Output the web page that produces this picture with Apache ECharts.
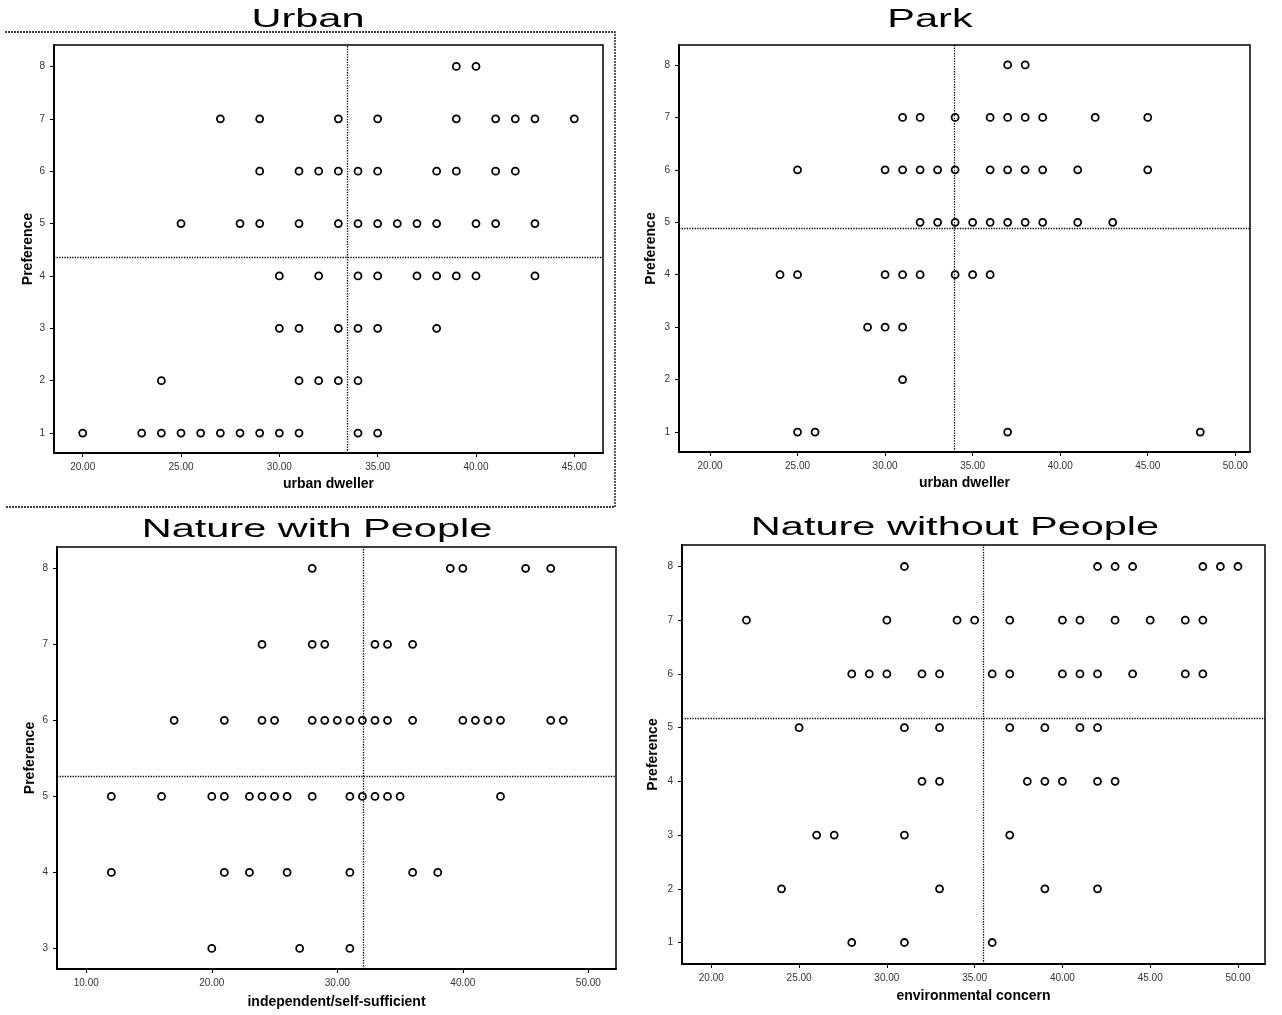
<!DOCTYPE html>
<html>
<head>
<meta charset="utf-8">
<script src="https://cdn.jsdelivr.net/npm/echarts@6/dist/echarts.min.js"></script>
<style>
  html, body { margin: 0; background: #fff; }
  #chart { width: 1282px; height: 1015px; }
</style>
</head>
<body>
<div id="chart"></div>
<script>
// panel titles and axis names
var titles = ['Urban', 'Park', 'Nature with People', 'Nature without People'];
var xNames = ['urban dweller', 'urban dweller', 'independent/self-sufficient', 'environmental concern'];

// tick labels
var xTicks = [
  [20, 25, 30, 35, 40, 45],
  [20, 25, 30, 35, 40, 45, 50],
  [10, 20, 30, 40, 50],
  [20, 25, 30, 35, 40, 45, 50]
];
var yTicks = [
  [1, 2, 3, 4, 5, 6, 7, 8],
  [1, 2, 3, 4, 5, 6, 7, 8],
  [3, 4, 5, 6, 7, 8],
  [1, 2, 3, 4, 5, 6, 7, 8]
];

// mean reference lines (x mean, preference mean)
var meanX = [33.47, 33.93, 32.03, 35.5];
var meanY = [4.36, 4.89, 5.27, 5.17];

// points: [score, preference]
var urbanPoints = [
  [39, 8], [40, 8],
  [27, 7], [29, 7], [33, 7], [35, 7], [39, 7], [41, 7], [42, 7], [43, 7], [45, 7],
  [29, 6], [31, 6], [32, 6], [33, 6], [34, 6], [35, 6], [38, 6], [39, 6], [41, 6], [42, 6],
  [25, 5], [28, 5], [29, 5], [31, 5], [33, 5], [34, 5], [35, 5], [36, 5], [37, 5], [38, 5], [40, 5], [41, 5], [43, 5],
  [30, 4], [32, 4], [34, 4], [35, 4], [37, 4], [38, 4], [39, 4], [40, 4], [43, 4],
  [30, 3], [31, 3], [33, 3], [34, 3], [35, 3], [38, 3],
  [24, 2], [31, 2], [32, 2], [33, 2], [34, 2],
  [20, 1], [23, 1], [24, 1], [25, 1], [26, 1], [27, 1], [28, 1], [29, 1], [30, 1], [31, 1], [34, 1], [35, 1]
];
var parkPoints = [
  [37, 8], [38, 8],
  [31, 7], [32, 7], [34, 7], [36, 7], [37, 7], [38, 7], [39, 7], [42, 7], [45, 7],
  [25, 6], [30, 6], [31, 6], [32, 6], [33, 6], [34, 6], [36, 6], [37, 6], [38, 6], [39, 6], [41, 6], [45, 6],
  [32, 5], [33, 5], [34, 5], [35, 5], [36, 5], [37, 5], [38, 5], [39, 5], [41, 5], [43, 5],
  [24, 4], [25, 4], [30, 4], [31, 4], [32, 4], [34, 4], [35, 4], [36, 4],
  [29, 3], [30, 3], [31, 3],
  [31, 2],
  [25, 1], [26, 1], [37, 1], [48, 1]
];
var withPeoplePoints = [
  [28, 8], [39, 8], [40, 8], [45, 8], [47, 8],
  [24, 7], [28, 7], [29, 7], [33, 7], [34, 7], [36, 7],
  [17, 6], [21, 6], [24, 6], [25, 6], [28, 6], [29, 6], [30, 6], [31, 6], [32, 6], [33, 6], [34, 6], [36, 6],
  [40, 6], [41, 6], [42, 6], [43, 6], [47, 6], [48, 6],
  [12, 5], [16, 5], [20, 5], [21, 5], [23, 5], [24, 5], [25, 5], [26, 5], [28, 5], [31, 5], [32, 5], [33, 5],
  [34, 5], [35, 5], [43, 5],
  [12, 4], [21, 4], [23, 4], [26, 4], [31, 4], [36, 4], [38, 4],
  [20, 3], [27, 3], [31, 3]
];
var withoutPeoplePoints = [
  [31, 8], [42, 8], [43, 8], [44, 8], [48, 8], [49, 8], [50, 8],
  [22, 7], [30, 7], [34, 7], [35, 7], [37, 7], [40, 7], [41, 7], [43, 7], [45, 7], [47, 7], [48, 7],
  [28, 6], [29, 6], [30, 6], [32, 6], [33, 6], [36, 6], [37, 6], [40, 6], [41, 6], [42, 6], [44, 6], [47, 6], [48, 6],
  [25, 5], [31, 5], [33, 5], [37, 5], [39, 5], [41, 5], [42, 5],
  [32, 4], [33, 4], [38, 4], [39, 4], [40, 4], [42, 4], [43, 4],
  [26, 3], [27, 3], [31, 3], [37, 3],
  [24, 2], [33, 2], [39, 2], [42, 2],
  [28, 1], [31, 1], [36, 1]
];
var panelPoints = [urbanPoints, parkPoints, withPeoplePoints, withoutPeoplePoints];

// layout
var grids = [
  { left: 54, top: 45, width: 549, height: 408 },
  { left: 679, top: 45, width: 571, height: 407 },
  { left: 57, top: 547, width: 559, height: 422 },
  { left: 682, top: 545, width: 583, height: 419 }
];
var xRange = [[18.54, 46.46], [18.23, 50.84], [7.67, 52.2], [18.33, 51.54]];
var yRange = [[0.62, 8.41], [0.62, 8.38], [2.73, 8.28], [0.6, 8.4]];
var yNameGap = [19, 21, 20, 22];
var xNameGap = [24, 24, 26, 25];
var titlePos = [[308, 8], [930, 8], [317, 518], [955, 516]];

var tickFont = { fontSize: 10, color: '#333', fontFamily: 'Liberation Sans, Arial, sans-serif' };
var nameFont = { fontSize: 14, fontWeight: 'bold', color: '#000', fontFamily: 'Liberation Sans, Arial, sans-serif' };

var myChart = echarts.init(document.getElementById('chart'));

var gridOpts = [], xAxes = [], yAxes = [], series = [], graphics = [];
for (var i = 0; i < 4; i++) {
  gridOpts.push(Object.assign({ show: true, borderColor: '#000', borderWidth: 1.5, backgroundColor: '#fff' }, grids[i]));
  xAxes.push({
    type: 'value', gridIndex: i, min: xRange[i][0], max: xRange[i][1],
    name: xNames[i], nameLocation: 'middle', nameGap: xNameGap[i], nameTextStyle: nameFont,
    axisLine: { show: true, lineStyle: { color: '#000', width: 2 } },
    axisTick: { show: true, length: 4, customValues: xTicks[i], lineStyle: { color: '#000' } },
    axisLabel: { customValues: xTicks[i], margin: 9, formatter: function (v) { return v.toFixed(2); }, ...tickFont },
    splitLine: { show: false }
  });
  yAxes.push({
    type: 'value', gridIndex: i, min: yRange[i][0], max: yRange[i][1],
    name: 'Preference', nameLocation: 'middle', nameGap: yNameGap[i], nameTextStyle: nameFont,
    axisLine: { show: true, lineStyle: { color: '#000', width: 2 } },
    axisTick: { show: true, length: 4, customValues: yTicks[i], lineStyle: { color: '#000' } },
    axisLabel: { customValues: yTicks[i], margin: 9, ...tickFont },
    splitLine: { show: false }
  });
  series.push({
    type: 'scatter', xAxisIndex: i, yAxisIndex: i,
    data: panelPoints[i],
    symbol: 'circle', symbolSize: 7,
    itemStyle: { color: '#fff', borderColor: '#000', borderWidth: 1.8, opacity: 1 },
    markLine: {
      silent: true, symbol: ['none', 'none'], label: { show: false },
      lineStyle: { type: 'dotted', color: '#000', width: 1.3 },
      data: [{ xAxis: meanX[i] }, { yAxis: meanY[i] }]
    }
  });
  graphics.push({
    type: 'text', x: titlePos[i][0], y: titlePos[i][1], scaleX: 1.66,
    style: { text: titles[i], textAlign: 'center', fill: '#000', font: '25px "Liberation Sans", Arial, sans-serif' }
  });
}
// dotted frame around the first panel
graphics.push({
  type: 'polyline',
  shape: { points: [[5, 32], [615, 32], [615, 507], [5, 507]] },
  style: { stroke: '#000', lineWidth: 1.3, lineDash: [2, 1], fill: null },
  z: -1
});

myChart.setOption({
  animation: false,
  backgroundColor: '#fff',
  grid: gridOpts,
  xAxis: xAxes,
  yAxis: yAxes,
  series: series,
  graphic: graphics
});
</script>
</body>
</html>
